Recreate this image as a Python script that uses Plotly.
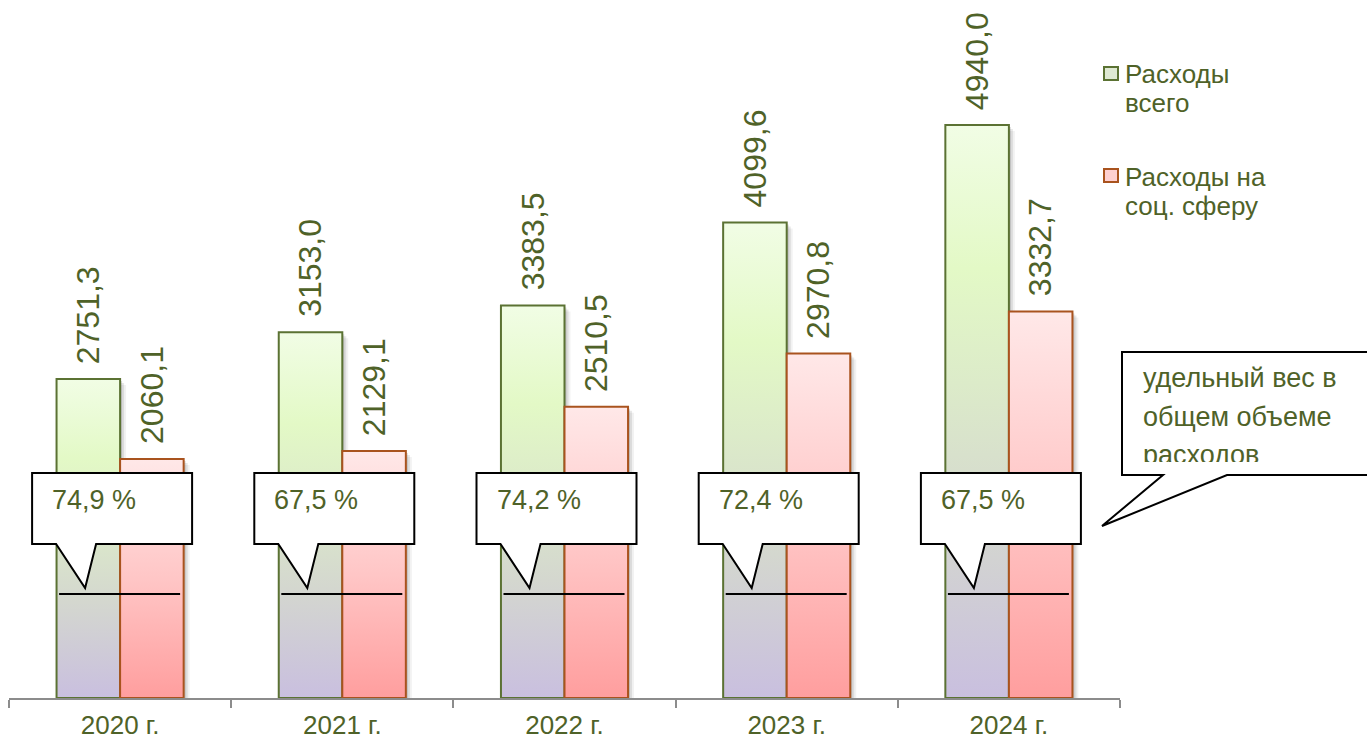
import plotly.graph_objects as go

# ---------------- data ----------------
YEARS = ["2020 г.", "2021 г.", "2022 г.", "2023 г.", "2024 г."]
TOTAL = [2751.3, 3153.0, 3383.5, 4099.6, 4940.0]      # Расходы всего
SOCIAL = [2060.1, 2129.1, 2510.5, 2970.8, 3332.7]     # Расходы на соц. сферу
SHARE = [74.9, 67.5, 74.2, 72.4, 67.5]                # удельный вес, %
SERIES_LINES = [["Расходы", "всего"], ["Расходы на", "соц. сферу"]]
NOTE_LINES = ["удельный вес в", "общем объеме", "расходов"]

# ---------------- style ----------------
TXT = "#4f6228"
FONT = "Liberation Sans, Arial, sans-serif"
GREEN_EDGE = "#5b7233"
PINK_EDGE = "#a9531e"
GREEN_SCALE = [[0, "#c9bfdf"], [0.3, "#d4d7cf"], [0.55, "#dcebc9"], [0.75, "#e3f9c6"], [1, "#f1fde5"]]
PINK_SCALE = [[0, "#ff9e9e"], [0.5, "#ffc6c6"], [1, "#ffe8e8"]]

W, H = 1367, 742
ML, MR, MT, MB = 9, 247, 0, 44
PW, PH = W - ML - MR, H - MT - MB
YMAX = 6018
CW = PW / len(YEARS)          # px per category
KY = PH / YMAX                # px per value unit
BW = 0.286                    # bar width in category units


def fmt(v):
    return f"{v:.1f}".replace(".", ",")


def xd(i, dpx):
    return i + dpx / CW


def yp(py):
    return (PH - (py - MT)) / PH


def xp(px):
    return (px - ML) / PW


fig = go.Figure()

# shadows
for series, side in ((TOTAL, -1), (SOCIAL, 1)):
    for i, v in enumerate(series):
        x0, x1 = (i - BW, i) if side < 0 else (i, i + BW)
        for off, a in ((2, 0.13), (4, 0.09), (6, 0.05)):
            dx = off / CW
            top = v - off / KY
            fig.add_trace(go.Scatter(
                x=[x0 + dx, x0 + dx, x1 + dx, x1 + dx, x0 + dx],
                y=[0, top, top, 0, 0], mode="lines", fill="toself",
                fillcolor=f"rgba(0,0,0,{a})", line=dict(width=0),
                hoverinfo="skip", showlegend=False))

# bars with gradient fill
for series, side, edge, scale in ((TOTAL, -1, GREEN_EDGE, GREEN_SCALE),
                                  (SOCIAL, 1, PINK_EDGE, PINK_SCALE)):
    for i, v in enumerate(series):
        x0, x1 = (i - BW, i) if side < 0 else (i, i + BW)
        fig.add_trace(go.Scatter(
            x=[x0, x0, x1, x1, x0], y=[0, v, v, 0, 0], mode="lines",
            fill="toself",
            fillgradient=dict(type="vertical", colorscale=scale, start=0, stop=v),
            line=dict(color=edge, width=2), hoverinfo="skip", showlegend=False))

annotations = []
shapes = []

# value labels
for series, side in ((TOTAL, -1), (SOCIAL, 1)):
    for i, v in enumerate(series):
        annotations.append(dict(
            x=i + side * BW / 2, y=v, xref="x", yref="y", text=fmt(v),
            textangle=-90, showarrow=False, xanchor="center", yanchor="bottom",
            yshift=13, font=dict(size=32, color=TXT, family=FONT)))

# percentage callouts
for i, s in enumerate(SHARE):
    shapes.append(dict(type="line", xref="x", yref="paper",
                       x0=xd(i, -61), x1=xd(i, 60), y0=yp(594), y1=yp(594),
                       line=dict(color="black", width=2), layer="above"))
    L, R = xd(i, -88), xd(i, 72)
    T, B = yp(473), yp(544)
    bl, br = xd(i, -64), xd(i, -24)
    tx, ty = xd(i, -35), yp(588)
    path = (f"M {L},{T} L {R},{T} L {R},{B} L {br},{B} L {tx},{ty} "
            f"L {bl},{B} L {L},{B} Z")
    shapes.append(dict(type="path", xref="x", yref="paper", path=path,
                       fillcolor="white", line=dict(color="black", width=2),
                       layer="above"))
    annotations.append(dict(
        x=xd(i, -70), y=yp(500), xref="x", yref="paper",
        text=f"{fmt(s)} %", showarrow=False, xanchor="left", yanchor="middle",
        font=dict(size=27, color=TXT, family=FONT)))

# right note callout
L, R, T, B = xp(1122), xp(1420), yp(352), yp(475)
bl, br = xp(1163), xp(1227)
tx, ty = xp(1102), yp(526)
shapes.append(dict(type="path", xref="paper", yref="paper",
                   path=(f"M {L},{T} L {R},{T} L {R},{B} L {br},{B} L {tx},{ty} "
                         f"L {bl},{B} L {L},{B} Z"),
                   fillcolor="white", line=dict(color="black", width=2), layer="above"))
for k, line in enumerate(NOTE_LINES):
    base = 387 + k * 38.5
    if k < len(NOTE_LINES) - 1:
        annotations.append(dict(
            x=xp(1141), y=yp(base - 9), xref="paper", yref="paper", text=line,
            showarrow=False, xanchor="left", yanchor="middle",
            font=dict(size=27, color=TXT, family=FONT)))
    else:
        annotations.append(dict(
            x=xp(1141), y=yp(base - 26), xref="paper", yref="paper", text=line,
            showarrow=False, xanchor="left", yanchor="top", valign="top",
            height=22, font=dict(size=27, color=TXT, family=FONT)))

# legend (manual)
LEG_COLORS = [("#dfe9d3", GREEN_EDGE), ("#ffd0d0", PINK_EDGE)]
for k, lines in enumerate(SERIES_LINES):
    top = 67 + k * 102
    fill, edge = LEG_COLORS[k]
    shapes.append(dict(type="rect", xref="paper", yref="paper",
                       x0=xp(1104), x1=xp(1118), y0=yp(top), y1=yp(top + 13),
                       fillcolor=fill, line=dict(color=edge, width=2), layer="above"))
    for j, ln in enumerate(lines):
        base = 83 + k * 103 + j * 29
        annotations.append(dict(
            x=xp(1123), y=yp(base - 9), xref="paper", yref="paper", text=ln,
            showarrow=False, xanchor="left", yanchor="middle",
            font=dict(size=26, color=TXT, family=FONT)))

fig.update_layout(
    width=W, height=H, margin=dict(l=ML, r=MR, t=MT, b=MB, autoexpand=False),
    paper_bgcolor="white", plot_bgcolor="white", showlegend=False,
    font=dict(family=FONT, color=TXT),
    xaxis=dict(range=[-0.5, len(YEARS) - 0.5], tickmode="array",
               tickvals=list(range(len(YEARS))), ticktext=YEARS, ticks="",
               tickfont=dict(size=26, color=TXT, family=FONT),
               ticklabelstandoff=3, automargin=False,
               showline=True, linecolor="#8c8c8c", linewidth=1.5,
               showgrid=False, zeroline=False, fixedrange=True,
               minor=dict(tickmode="array",
                          tickvals=[k - 0.5 for k in range(len(YEARS) + 1)],
                          ticks="outside", ticklen=8, tickcolor="#8c8c8c",
                          tickwidth=1.5, showgrid=False)),
    yaxis=dict(range=[0, YMAX], visible=False, fixedrange=True, automargin=False),
    shapes=shapes, annotations=annotations,
)

fig.write_html(
    "out.html",
    config={"displayModeBar": False},
    post_script="document.body.style.margin='0';document.body.style.overflow='hidden';",
)
